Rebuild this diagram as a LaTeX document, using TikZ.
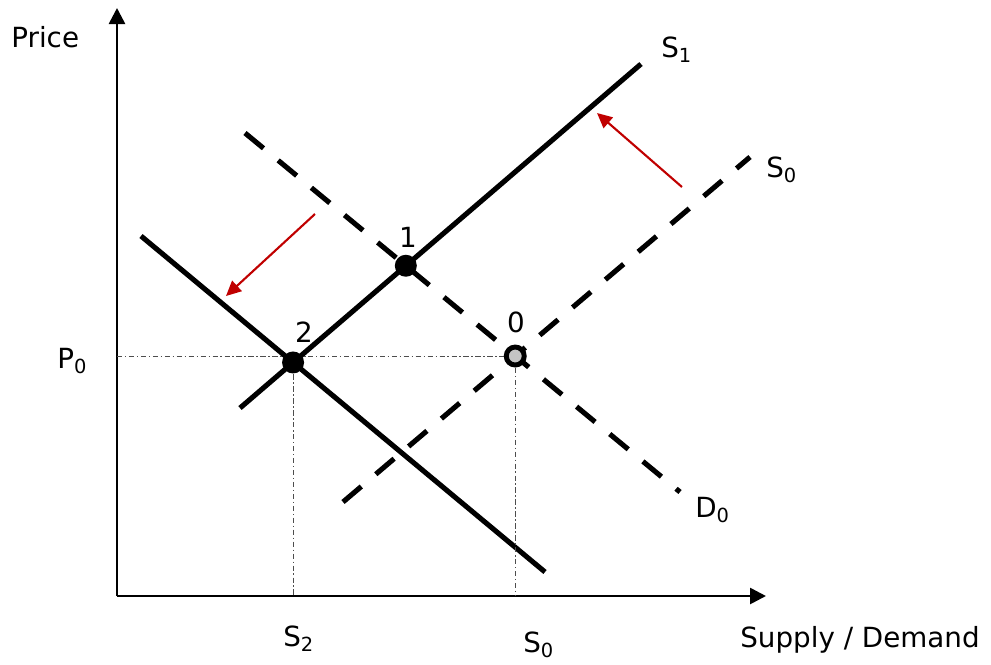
\documentclass[tikz,border=0pt]{standalone}
\usepackage{fontspec}
\setmainfont{DejaVu Sans}
\usetikzlibrary{arrows.meta, calc}
\definecolor{ink}    {HTML}{000000}
\definecolor{shiftred}{HTML}{C00000}
\definecolor{guide}  {HTML}{4D4D4D}
\definecolor{hollow} {HTML}{C4C4C4}
\tikzset{
  axis/.style     = {line width=1.5pt, ink, -{Triangle[length=0.32cm, width=0.32cm]}},
  curve/.style    = {line width=2.9pt, ink},
  dcurve/.style   = {curve, dash pattern=on 0.48cm off 0.38cm},
  guideline/.style= {line width=0.5pt, guide,
                     dash pattern=on 3pt off 1.5pt on 0.8pt off 1.5pt},
  shiftarr/.style = {line width=1.2pt, shiftred, -{Triangle[length=0.3cm, width=0.28cm]}},
  dot/.style      = {circle, fill=ink, inner sep=0pt, minimum size=0.44cm},
  odot/.style     = {circle, draw=ink, line width=2.8pt, fill=hollow,
                     inner sep=0pt, minimum size=0.36cm},
  labl/.style     = {inner sep=0pt, anchor=base west},
  num/.style      = {inner sep=0pt, anchor=base},
}

\begin{document}
\begin{tikzpicture}[x=0.02cm, y=-0.02cm, font=\fontsize{15.8}{19}\selectfont]
  \useasboundingbox (0,0) rectangle (991,664);

  % axes
  \coordinate (O)    at (117,596);
  \coordinate (ytop) at (117,8);
  \coordinate (xend) at (766,596);
  \draw[axis] (O) -- (ytop);
  \draw[axis] (O) -- (xend);

  % supply and demand curves
  \coordinate (s1a) at (240,408); \coordinate (s1b) at (641,64);
  \coordinate (s0a) at (343,502); \coordinate (s0b) at (750,157);
  \coordinate (d0a) at (245,133); \coordinate (d0b) at (680,492);
  \coordinate (d1a) at (141,236); \coordinate (d1b) at (545,572);

  \draw[curve]  (s1a) -- (s1b);
  \draw[curve]  (d1a) -- (d1b);
  \draw[dcurve] (s0a) -- (s0b);
  \draw[dcurve] (d0a) -- (d0b);

  % equilibria
  \coordinate (p1) at (intersection of s1a--s1b and d0a--d0b);
  \coordinate (p2) at (intersection of s1a--s1b and d1a--d1b);
  \coordinate (p0) at (intersection of s0a--s0b and d0a--d0b);

  \draw[guideline] (O |- p0) -- (p0);
  \draw[guideline] (p2) -- (p2 |- O);
  \draw[guideline] (p0) -- (p0 |- O);

  \node[dot]  (e1) at (p1) {};
  \node[dot]  (e2) at (p2) {};
  \node[odot] (e0) at (p0) {};

  % shifts
  \coordinate (r1a) at (682,187); \coordinate (r1b) at (597,113);
  \coordinate (r2a) at (315,214); \coordinate (r2b) at (226,296);
  \draw[shiftarr] (r1a) -- (r1b);
  \draw[shiftarr] (r2a) -- (r2b);

  % labels
  \node[labl] (price)  at (11,47)   {Price};
  \node[labl] (qty)    at (740,647) {Supply / Demand};
  \node[labl] (ls1)    at (661,57)  {S\textsubscript{1}};
  \node[labl] (ls0)    at (766,177) {S\textsubscript{0}};
  \node[labl] (ld0)    at (695,517) {D\textsubscript{0}};
  \node[labl] (lp0)    at (57,368)  {P\textsubscript{0}};
  \node[labl] (ls2)    at (283,646) {S\textsubscript{2}};
  \node[labl] (ls0b)   at (523,652) {S\textsubscript{0}};
  \node[num]  (n1)     at (408,247) {1};
  \node[num]  (n2)     at (304,342) {2};
  \node[num]  (n0)     at (516,332) {0};

\end{tikzpicture}
\end{document}
